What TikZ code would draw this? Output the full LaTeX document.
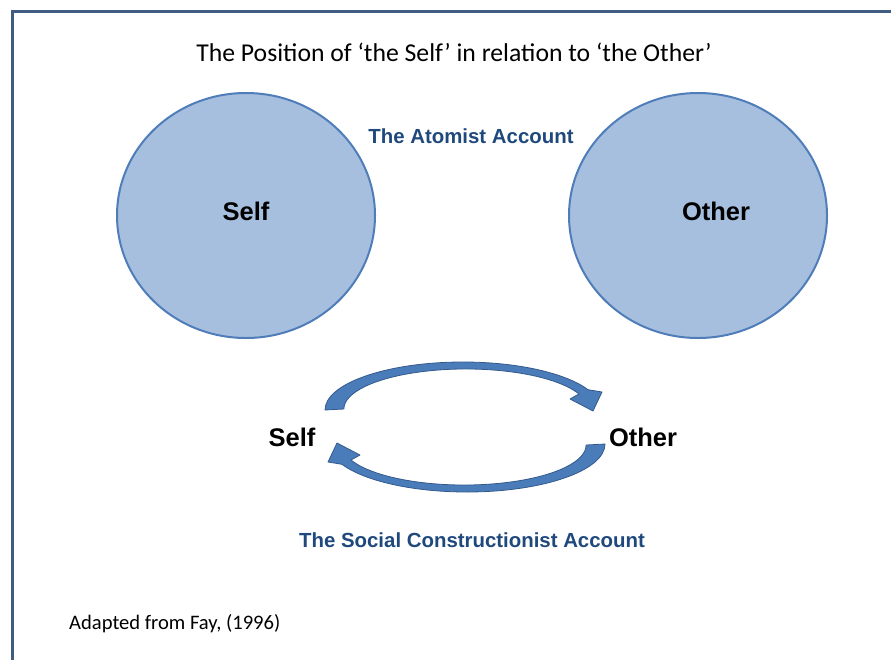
\documentclass[tikz,border=0pt]{standalone}
\usepackage{fontspec}
\setmainfont{Carlito}
\newfontfamily\arialfont{Liberation Sans}
\usetikzlibrary{positioning}
\usetikzlibrary{shapes.geometric}
\definecolor{framecol}{RGB}{64,92,128}
\definecolor{discfill}{RGB}{167,191,222}
\definecolor{discline}{RGB}{79,125,185}
\definecolor{arrowfill}{RGB}{74,124,186}
\definecolor{arrowline}{RGB}{52,90,140}
\definecolor{headblue}{RGB}{31,73,125}

\begin{document}
\begin{tikzpicture}[x=1pt, y=-1pt,
  disc/.style = {shape=ellipse, draw=discline, line width=2pt, fill=discfill,
    minimum width=258pt, minimum height=245pt, inner sep=0pt},
  word/.style = {font=\arialfont\bfseries\fontsize{25.5}{30}\selectfont, inner sep=0pt},
  account/.style = {font=\arialfont\bfseries\fontsize{20.4}{24}\selectfont,
    text=headblue, inner sep=0pt},
  curvearrow/.style = {fill=arrowfill, draw=arrowline, line width=0.8pt, line join=round}
  ]
  \useasboundingbox (0,0) rectangle (891,659);
  \draw[framecol, line width=3pt] (12,662) -- (12,11) -- (894,11);

  \node[inner sep=0pt, font=\fontsize{25.7}{30}\selectfont] (title) at (454,52)
    {The Position of ‘the Self’ in relation to ‘the Other’};

  % the atomist account
  \node[disc] (selfdisc) at (246,215.5) {};
  \node[disc] (otherdisc) at (698,215.5) {};
  \node[word] (selfA) at (246,211) {Self};
  \node[word] (otherA) at (716,211) {Other};
  \node[account] (atomist) at (471,136) {The Atomist Account};

  % the social constructionist account
  \node[word] (selfB) at (292,437) {Self};
  \node[word] (otherB) at (643,437) {Other};
  \draw[curvearrow] (325,410) arc[start angle=180, end angle=335, x radius=138, y radius=48]
    -- (602,392) -- (593,411) -- (570,399) -- (579,394)
    arc[start angle=338, end angle=180, x radius=122, y radius=40] -- cycle;
  \draw[curvearrow, rotate around={180:(465,427)}] (325,410)
    arc[start angle=180, end angle=335, x radius=138, y radius=48]
    -- (602,392) -- (593,411) -- (570,399) -- (579,394)
    arc[start angle=338, end angle=180, x radius=122, y radius=40] -- cycle;
  \node[account] (social) at (472,540) {The Social Constructionist Account};

  \node[inner sep=0pt, anchor=west, font=\fontsize{20.6}{24}\selectfont] (source) at (69,624)
    {Adapted from Fay, (1996)};
\end{tikzpicture}
\end{document}
